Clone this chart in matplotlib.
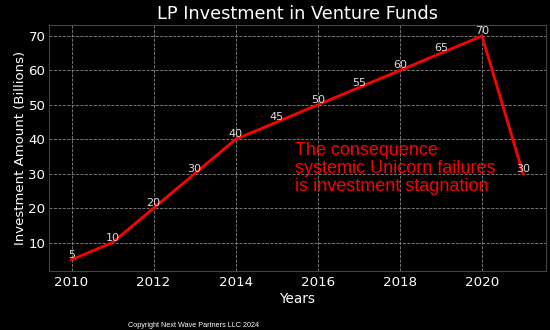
import matplotlib.pyplot as plt

years = [2010, 2011, 2012, 2013, 2014, 2015, 2016, 2017, 2018, 2019, 2020, 2021]
investment = [5, 10, 20, 30, 40, 45, 50, 55, 60, 65, 70, 30]

plt.style.use('dark_background')
fig, ax = plt.subplots(figsize=(5.5, 3.3), dpi=100)
fig.subplots_adjust(left=0.089, right=0.992, bottom=0.179, top=0.925)

ax.plot(years, investment, color='red', linewidth=2)
for x, y in zip(years, investment):
    ax.text(x, y, str(y), ha='center', va='bottom', fontsize=8, color='#dddddd')

ax.set_title('LP Investment in Venture Funds', fontsize=12.8, pad=4)
ax.set_xlabel('Years', fontsize=9.8, labelpad=2)
ax.set_ylabel('Investment Amount (Billions)', fontsize=9.5, labelpad=1)
ax.tick_params(length=0, labelsize=9.6)
ax.tick_params(axis='y', pad=2.5)
ax.tick_params(axis='x', pad=4)
ax.grid(True, linestyle='--', color='#888888', linewidth=0.6)
for s in ax.spines.values():
    s.set_color('#444444')

ax.text(2015.45, 25, 'The consequence\nsystemic Unicorn failures\nis investment stagnation',
        color='red', fontsize=13, family='Liberation Sans', va='baseline', linespacing=1.07)

fig.text(0.233, 0.01, 'Copyright Next Wave Partners LLC 2024', fontsize=5.2,
         family='Liberation Sans', color='white')

fig.savefig('out.png')
